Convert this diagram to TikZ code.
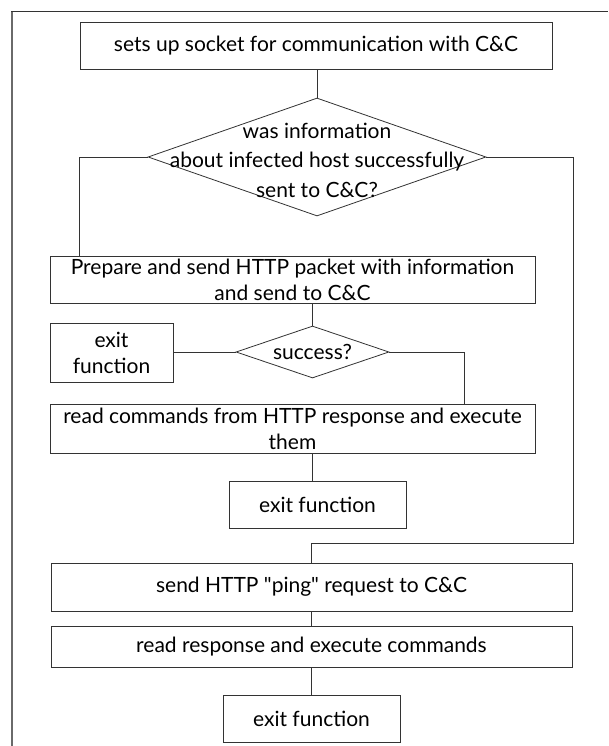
\documentclass[tikz,border=0pt]{standalone}
\usepackage{fontspec}
\setmainfont{Lato}[Ligatures=TeXOff]
\usetikzlibrary{shapes.geometric}
\definecolor{linec}{HTML}{333333}
\definecolor{framec}{HTML}{6A6A6A}
\begin{document}
\begin{tikzpicture}[x=1pt,y=-1pt,
  every node/.style={font=\fontsize{21}{26}\selectfont, text=black},
  box/.style={draw=linec, line width=0.8pt, inner sep=0pt, align=center},
  decision/.style={draw=linec, line width=0.8pt, diamond, inner sep=0pt},
  conn/.style={draw=linec, line width=0.8pt}]
\useasboundingbox (0,0) rectangle (608,746);
\fill[white] (0,0) rectangle (608,746);

% outer frame (open at right and bottom)
\draw[framec, line width=2pt] (12,746) -- (12,11);
\draw[linec, line width=0.8pt] (11,11) -- (608,11);

% process steps
\node[box, minimum width=472pt, minimum height=47pt] (b1) at (316,45.5)
  {sets up socket for communication with C\&C};
\node[decision, minimum width=338pt, minimum height=118pt] (d1) at (317,157) {};
\node[align=center, font=\fontsize{21}{29.5}\selectfont] (d1t) at (317,160)
  {was information\\about infected host successfully\\sent to C\&C?};
\node[box, minimum width=485pt, minimum height=47pt] (b2) at (292.5,279.5)
  {Prepare and send HTTP packet with information\\and send to C\&C};
\node[decision, minimum width=153pt, minimum height=52pt] (d2) at (312.5,352) {};
\node (d2t) at (312.5,352) {success?};
\node[box, minimum width=123pt, minimum height=59pt] (e1) at (111.5,352.5)
  {exit\\function};
\node[box, minimum width=485pt, minimum height=49pt] (b3) at (292.5,428.5)
  {read commands from HTTP response and execute\\them};
\node[box, minimum width=177pt, minimum height=47pt] (e2) at (317.5,504.5)
  {exit function};
\node[box, minimum width=521pt, minimum height=48pt] (b4) at (311.5,587)
  {send HTTP "ping" request to C\&C};
\node[box, minimum width=521pt, minimum height=41pt] (b5) at (311.5,646.5)
  {read response and execute commands};
\node[box, minimum width=177pt, minimum height=47pt] (e3) at (311.5,718.5)
  {exit function};

% connectors
\coordinate (r1) at (573,543);
\coordinate (r2) at (464,0);
\draw[conn] (d1.north |- b1.south) -- (d1.north);
\draw[conn] (d1.west) -| (b1.west |- b2.north);
\draw[conn] (d1.east) -| (r1) -| (b4.north);
\draw[conn] (d2.north |- b2.south) -- (d2.north);
\draw[conn] (d2.west) -- (e1.east |- d2.west);
\draw[conn] (d2.east) -| (r2 |- b3.north);
\draw[conn] (d2.south |- b3.south) -- (d2.south |- e2.north);
\draw[conn] (b4.south) -- (b5.north);
\draw[conn] (b5.south) -- (e3.north);
\end{tikzpicture}
\end{document}
